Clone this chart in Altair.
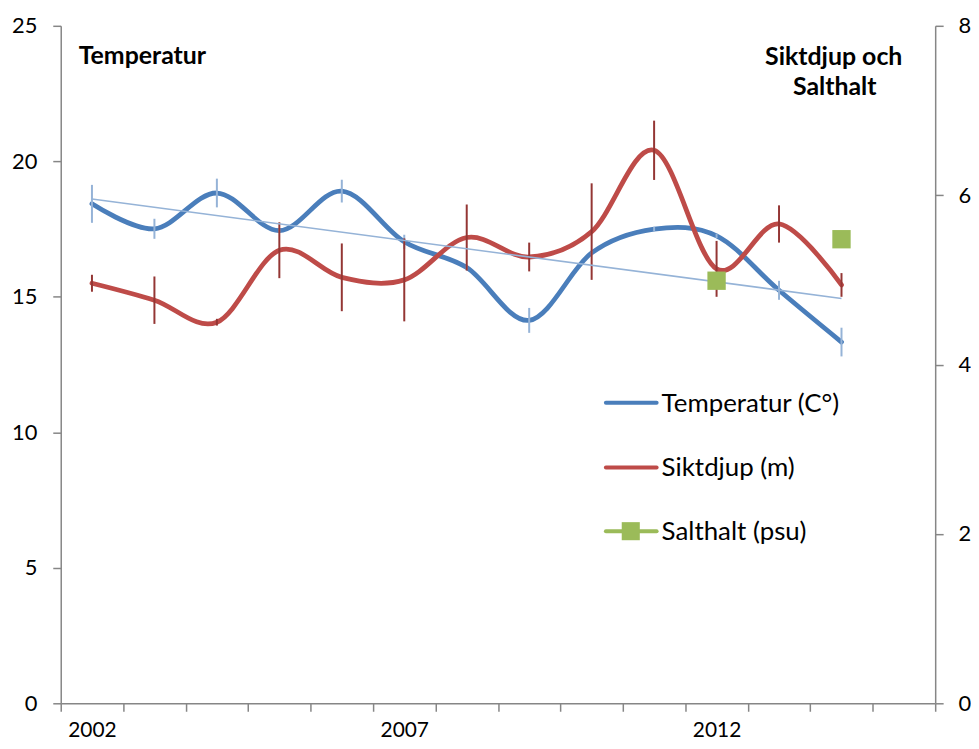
import altair as alt
import pandas as pd

# ---------------- data ----------------
years_all = list(range(2002, 2016))
years = list(range(2002, 2015))
temp = [18.43, 17.51, 18.83, 17.44, 18.90, 17.03, 16.08, 14.13, 16.62, 17.50, 17.25, 15.24, 13.33]
temp_err = [0.70, 0.37, 0.53, 0.08, 0.42, 0.26, 0.08, 0.46, 0.08, 0.08, 0.08, 0.35, 0.53]
sikt = [4.96, 4.76, 4.50, 5.35, 5.03, 5.00, 5.50, 5.27, 5.57, 6.53, 5.13, 5.66, 4.94]
sikt_err = [0.10, 0.28, 0.04, 0.33, 0.40, 0.49, 0.39, 0.17, 0.57, 0.35, 0.33, 0.22, 0.14]
salt_years = [2012, 2014]
salt = [4.99, 5.48]
trend_years = [2002, 2014]
trend = [18.61, 14.94]
x_labels = ["2002", "2007", "2012"]
left_ticks = [0, 5, 10, 15, 20, 25]
right_ticks = [0, 2, 4, 6, 8]
legend_labels = ["Temperatur (C°)", "Siktdjup (m)", "Salthalt (psu)"]
left_title = "Temperatur"
right_title = ["Siktdjup och", "Salthalt"]

# ---------------- style ----------------
FONT = "Lato"
BLUE = "#4A7EBB"
RED = "#BE4B48"
GREEN = "#9BBB59"
ERR_BLUE = "#95B3D7"
ERR_RED = "#943634"
TREND = "#95B3D7"
AXIS = "#868686"
W, H = 879, 681

df_t = pd.DataFrame({
    "year": years, "temp": temp,
    "lo": [v - e for v, e in zip(temp, temp_err)],
    "hi": [v + e for v, e in zip(temp, temp_err)],
})
df_s = pd.DataFrame({
    "year": years, "sikt": sikt,
    "lo": [v - e for v, e in zip(sikt, sikt_err)],
    "hi": [v + e for v, e in zip(sikt, sikt_err)],
})
df_salt = pd.DataFrame({"year": salt_years, "salt": salt})
df_trend = pd.DataFrame({"year": trend_years, "trend": trend})
one = pd.DataFrame({"k": [0]})

label_test = "indexof([" + ",".join("'%s'" % l for l in x_labels) + "], datum.label) >= 0 ? datum.label : ''"

x_enc = alt.X(
    "year:O",
    scale=alt.Scale(type="band", domain=years_all, paddingInner=0, paddingOuter=0),
    axis=alt.Axis(
        title=None, tickBand="extent", labelExpr=label_test, labelAngle=0,
        tickSize=8, tickColor=AXIS, domainColor=AXIS, domainWidth=1.5, tickWidth=1.5,
        labelFont=FONT, labelFontSize=21, labelColor="#000000", labelPadding=8,
        grid=False,
    ),
)

left_scale = alt.Scale(domain=[0, 25], nice=False)
right_scale = alt.Scale(domain=[0, 8], nice=False)

left_axis = alt.Axis(
    orient="left", values=left_ticks, title=None, tickSize=8, tickColor=AXIS,
    domainColor=AXIS, domainWidth=1.5, tickWidth=1.5, labelFont=FONT, labelFontSize=22,
    labelColor="#000000", labelPadding=16, grid=False,
)
right_axis = alt.Axis(
    orient="right", values=right_ticks, title=None, tickSize=8, tickColor=AXIS,
    domainColor=AXIS, domainWidth=1.5, tickWidth=1.5, labelFont=FONT, labelFontSize=22,
    labelColor="#000000", labelPadding=15, grid=False,
)

blue_line = alt.Chart(df_t).mark_line(
    interpolate="cardinal", strokeWidth=4.8, color=BLUE, strokeCap="round"
).encode(x=x_enc, y=alt.Y("temp:Q", scale=left_scale, axis=left_axis))

red_line = alt.Chart(df_s).mark_line(
    interpolate="cardinal", strokeWidth=4.8, color=RED, strokeCap="round"
).encode(x=x_enc, y=alt.Y("sikt:Q", scale=right_scale, axis=right_axis))

blue_err = alt.Chart(df_t).mark_rule(strokeWidth=2, color=ERR_BLUE).encode(
    x=x_enc, y=alt.Y("lo:Q", scale=left_scale, axis=None), y2="hi:Q"
)
red_err = alt.Chart(df_s).mark_rule(strokeWidth=2, color=ERR_RED).encode(
    x=x_enc, y=alt.Y("lo:Q", scale=right_scale, axis=None), y2="hi:Q"
)
trend_line = alt.Chart(df_trend).mark_line(strokeWidth=1.6, color=TREND).encode(
    x=x_enc, y=alt.Y("trend:Q", scale=left_scale, axis=None)
)
salt_pts = alt.Chart(df_salt).mark_square(size=340, color=GREEN, opacity=1).encode(
    x=x_enc, y=alt.Y("salt:Q", scale=right_scale, axis=None)
)

# ---------------- titles & legend ----------------
title_l = alt.Chart(one).mark_text(
    text=left_title, font=FONT, fontSize=25, fontWeight="bold", align="left", baseline="middle", color="#000"
).encode(x=alt.value(18), y=alt.value(30))
title_r1 = alt.Chart(one).mark_text(
    text=right_title[0], font=FONT, fontSize=25, fontWeight="bold", align="center", baseline="middle", color="#000"
).encode(x=alt.value(777), y=alt.value(31))
title_r2 = alt.Chart(one).mark_text(
    text=right_title[1], font=FONT, fontSize=25, fontWeight="bold", align="center", baseline="middle", color="#000"
).encode(x=alt.value(778), y=alt.value(62))

legend_layers = []
leg_colors = [BLUE, RED, GREEN]
leg_y = [379, 444, 508]
for lab, col, yy in zip(legend_labels, leg_colors, leg_y):
    legend_layers.append(
        alt.Chart(one).mark_rule(strokeWidth=4, color=col, strokeCap="round").encode(
            x=alt.value(548), x2=alt.value(599), y=alt.value(yy)
        )
    )
    legend_layers.append(
        alt.Chart(one).mark_text(
            text=lab, font=FONT, fontSize=26, align="left", baseline="middle", color="#000"
        ).encode(x=alt.value(604), y=alt.value(yy + 1))
    )
legend_layers.append(
    alt.Chart(one).mark_square(size=330, color=GREEN, opacity=1).encode(
        x=alt.value(573), y=alt.value(leg_y[2])
    )
)

chart = alt.layer(
    blue_line, red_line, blue_err, red_err, trend_line, salt_pts,
    title_l, title_r1, title_r2, *legend_layers,
).resolve_scale(y="independent").properties(
    width=W, height=H,
    autosize=alt.AutoSizeParams(type="none"),
    padding={"left": 53, "top": 16, "right": 36, "bottom": 36},
).configure_view(stroke=None)

chart.save("out.html", embed_options={"renderer": "svg", "actions": False})
